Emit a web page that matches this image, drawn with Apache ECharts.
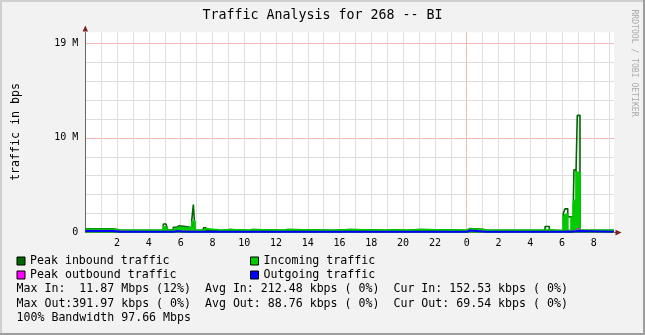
<!DOCTYPE html>
<html>
<head>
<meta charset="utf-8">
<title>Traffic Analysis for 268 -- BI</title>
<script src="https://cdn.jsdelivr.net/npm/echarts@6/dist/echarts.min.js"></script>
<style>
html, body { margin: 0; padding: 0; background: #f2f2f2; }
#chart { width: 645px; height: 335px; }
</style>
</head>
<body>
<div id="chart"></div>
<script>
// sample times in hours since 00:00 of the first day; each value holds until the next time
var hours = [0, 1.75, 2.2, 4.91, 5.08, 5.19, 5.33, 5.54, 5.75, 5.92,
    6.07, 6.7, 6.8, 6.9, 7.43, 7.6, 8.6, 9.1, 10.25, 10.5,
    12.45, 12.7, 15.6, 16.66, 18.98, 19.3, 20.25, 21.06, 24.0, 24.2,
    24.3, 25.0, 25.25, 28.93, 29.2, 29.56, 29.67, 30.08, 30.19, 30.36,
    30.57, 30.71, 30.75, 30.88, 30.96, 31.13, 33.27];
// values in millions of bits per second
var incoming = [0.32, 0.24, 0.22, 0.6, 0.5, 0.22, 0.25, 0.45, 0.55, 0.5,
    0.45, 1.1, 1.2, 0.22, 0.4, 0.22, 0.3, 0.22, 0.3, 0.22,
    0.3, 0.22, 0.3, 0.22, 0.28, 0.22, 0.3, 0.22, 0.39, 0.39,
    0.3, 0.25, 0.22, 0.29, 0.22, 0.25, 0.2, 1.5, 1.9, 0.22,
    1.6, 3.0, 3.4, 6.4, 6.3, 0.22, 0.22];
var peakIn = [0.38, 0.26, 0.22, 0.9, 0.75, 0.25, 0.3, 0.55, 0.72, 0.67,
    0.52, 1.3, 2.96, 0.22, 0.5, 0.22, 0.3, 0.22, 0.3, 0.22,
    0.3, 0.22, 0.3, 0.22, 0.28, 0.22, 0.3, 0.22, 0.42, 0.45,
    0.35, 0.25, 0.22, 0.64, 0.22, 0.3, 0.2, 2.05, 2.5, 1.65,
    1.65, 3.0, 6.63, 6.4, 12.38, 0.22, 0.22];
var outgoing = [0.15, 0.09, 0.07, 0.08, 0.08, 0.07, 0.07, 0.12, 0.12, 0.1,
    0.09, 0.08, 0.08, 0.07, 0.07, 0.07, 0.07, 0.07, 0.07, 0.07,
    0.07, 0.07, 0.07, 0.07, 0.07, 0.07, 0.07, 0.07, 0.2, 0.18,
    0.1, 0.07, 0.07, 0.08, 0.07, 0.07, 0.07, 0.1, 0.1, 0.08,
    0.1, 0.12, 0.12, 0.14, 0.15, 0.07, 0.07];
var peakOut = [0.22, 0.13, 0.1, 0.12, 0.12, 0.1, 0.1, 0.16, 0.16, 0.14,
    0.12, 0.12, 0.12, 0.1, 0.1, 0.1, 0.1, 0.1, 0.1, 0.1,
    0.1, 0.1, 0.1, 0.1, 0.1, 0.1, 0.1, 0.1, 0.26, 0.24,
    0.14, 0.1, 0.1, 0.12, 0.1, 0.1, 0.1, 0.14, 0.14, 0.12,
    0.14, 0.16, 0.18, 0.2, 0.41, 0.1, 0.1];

var yLabelValues = [0, 10, 20];
var yLabelTexts = ['0', '10 M', '19 M'];
var midnight = 24;

var statLines = [
    'Max In:  11.87 Mbps (12%)  Avg In: 212.48 kbps ( 0%)  Cur In: 152.53 kbps ( 0%)',
    'Max Out:391.97 kbps ( 0%)  Avg Out: 88.76 kbps ( 0%)  Cur Out: 69.54 kbps ( 0%)',
    '100% Bandwidth 97.66 Mbps'
];

var mono = '"DejaVu Sans Mono", monospace';
var gridColor = '#dedede';
var majorColor = '#f4b8b8';
var arrowColor = '#801f1f';

function pairs(vals) {
    return hours.map(function (h, i) { return [h, vals[i]]; });
}

// vertical grid: one line per hour, the day change in red
var xLineColors = [];
for (var h = 0; h <= 33; h++) {
    xLineColors.push(h === midnight ? majorColor : gridColor);
}
xLineColors.push('rgba(0,0,0,0)');
var yLineColors = [];
for (var v = 0; v <= 20; v += 2) {
    yLineColors.push(yLabelValues.indexOf(v) > 0 ? majorColor : gridColor);
}
yLineColors.push('rgba(0,0,0,0)');

var chart = echarts.init(document.getElementById('chart'));

var option = {
    backgroundColor: '#f2f2f2',
    animation: false,
    grid: {
        left: 85.3,
        right: 31,
        top: 32.3,
        bottom: 102.5,
        show: true,
        backgroundColor: '#ffffff',
        borderWidth: 0
    },
    xAxis: {
        type: 'value',
        min: 0,
        max: 33.27,
        interval: 1,
        axisLine: { show: true, lineStyle: { color: '#666666', width: 1 } },
        axisTick: { show: false },
        axisLabel: {
            color: '#000',
            fontFamily: mono,
            fontSize: 10,
            margin: 6,
            showMaxLabel: false,
            formatter: function (val) {
                var r = Math.round(val);
                if (r !== val || r === 0 || r % 2 !== 0) return '';
                return String(r % 24);
            }
        },
        splitLine: {
            show: true,
            showMaxLine: false,
            lineStyle: { color: xLineColors, width: 1 }
        }
    },
    yAxis: {
        type: 'value',
        min: 0,
        max: 21.16,
        interval: 2,
        axisLine: { show: true, lineStyle: { color: '#666666', width: 1 } },
        axisTick: { show: false },
        axisLabel: {
            color: '#000',
            fontFamily: mono,
            fontSize: 10,
            margin: 7,
            showMaxLabel: false,
            formatter: function (val) {
                var i = yLabelValues.indexOf(Math.round(val * 100) / 100);
                return i >= 0 ? yLabelTexts[i] : '';
            }
        },
        splitLine: {
            show: true,
            showMaxLine: false,
            lineStyle: { color: yLineColors, width: 1 }
        }
    },
    legend: [{
        data: ['Peak inbound traffic', 'Peak outbound traffic'],
        orient: 'vertical',
        left: 16.5,
        top: 254,
        padding: 0,
        itemGap: 0,
        itemWidth: 8,
        itemHeight: 8,
        icon: 'rect',
        selectedMode: false,
        itemStyle: { borderColor: '#000', borderWidth: 1 },
        textStyle: { fontFamily: mono, fontSize: 11.6, color: '#000', lineHeight: 14 }
    }, {
        data: ['Incoming traffic', 'Outgoing traffic'],
        orient: 'vertical',
        left: 250,
        top: 254,
        padding: 0,
        itemGap: 0,
        itemWidth: 8,
        itemHeight: 8,
        icon: 'rect',
        selectedMode: false,
        itemStyle: { borderColor: '#000', borderWidth: 1 },
        textStyle: { fontFamily: mono, fontSize: 11.6, color: '#000', lineHeight: 14 }
    }],
    series: [{
        name: 'Peak inbound traffic',
        type: 'line',
        step: 'end',
        symbol: 'none',
        color: '#006600',
        lineStyle: { color: '#006600', width: 1.6 },
        data: pairs(peakIn)
    }, {
        name: 'Incoming traffic',
        type: 'line',
        step: 'end',
        symbol: 'none',
        color: '#00cc00',
        lineStyle: { color: '#00cc00', width: 1.8 },
        areaStyle: { color: '#00cc00', opacity: 1 },
        data: pairs(incoming)
    }, {
        name: 'Peak outbound traffic',
        type: 'line',
        step: 'end',
        symbol: 'none',
        color: '#ff00ff',
        lineStyle: { color: '#ff00ff', width: 1 },
        data: pairs(peakOut)
    }, {
        name: 'Outgoing traffic',
        type: 'line',
        step: 'end',
        symbol: 'none',
        color: '#0000ff',
        lineStyle: { color: '#0000ff', width: 2 },
        data: pairs(outgoing)
    }],
    graphic: [
        // 3d frame round the picture
        { type: 'rect', shape: { x: 0, y: 0, width: 645, height: 2 }, style: { fill: '#cfcfcf' }, silent: true },
        { type: 'rect', shape: { x: 0, y: 0, width: 2, height: 335 }, style: { fill: '#cfcfcf' }, silent: true },
        { type: 'rect', shape: { x: 0, y: 333, width: 645, height: 2 }, style: { fill: '#9e9e9e' }, silent: true },
        { type: 'rect', shape: { x: 643, y: 0, width: 2, height: 335 }, style: { fill: '#9e9e9e' }, silent: true },
        // axis arrows
        { type: 'polygon', shape: { points: [[82.6, 31.5], [88, 31.5], [85.3, 25.5]] }, style: { fill: arrowColor }, z: 10 },
        { type: 'rect', shape: { x: 613, y: 232, width: 3, height: 1 }, style: { fill: '#666666' }, z: 10 },
        { type: 'polygon', shape: { points: [[615.5, 229.8], [615.5, 235.4], [621.5, 232.6]] }, style: { fill: arrowColor }, z: 10 },
        {
            type: 'text', left: 'center', top: 9,
            style: { text: 'Traffic Analysis for 268 -- BI', fontFamily: mono, fontSize: 13.3, fill: '#000' }
        },
        {
            type: 'text', x: 15.5, y: 132, rotation: Math.PI / 2,
            style: { text: 'traffic in bps', x: 0, y: 0, align: 'center', verticalAlign: 'middle', fontFamily: mono, fontSize: 11.6, fill: '#000' }
        },
        {
            type: 'text', x: 634, y: 63, rotation: -Math.PI / 2,
            style: { text: 'RRDTOOL / TOBI OETIKER', x: 0, y: 0, align: 'center', verticalAlign: 'middle', fontFamily: mono, fontSize: 8.1, fill: '#ababab' }
        },
        {
            type: 'text', x: 16.5, y: 282.3,
            style: { text: statLines.join('\n'), fontFamily: mono, fontSize: 11.6, lineHeight: 14.2, fill: '#000' }
        }
    ]
};

chart.setOption(option);
</script>
</body>
</html>
